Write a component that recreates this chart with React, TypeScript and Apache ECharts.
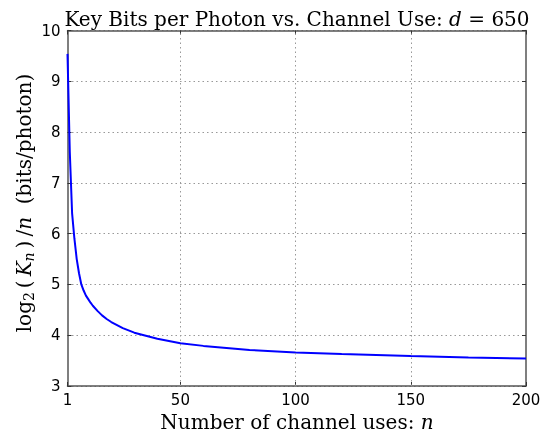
import React, { useEffect, useRef } from "react";
import * as echarts from "echarts";

const nValues = [1, 2, 3, 4, 5, 6, 7, 8, 9, 10, 11, 12, 14, 16, 18, 20, 25, 30, 35, 40, 50, 60, 70, 80, 100, 120, 150, 175, 200];
const keyBits = [9.54, 7.6, 6.4, 5.9, 5.5, 5.22, 5.0, 4.88, 4.78, 4.71, 4.64, 4.58, 4.48, 4.39, 4.32, 4.26, 4.14, 4.05, 3.99, 3.93, 3.84, 3.79, 3.75, 3.71, 3.66, 3.63, 3.59, 3.56, 3.54];
const xTicks = [1, 50, 100, 150, 200];
const yMin = 3;
const yMax = 10;

const titleText = "Key Bits per Photon vs. Channel Use";
const xLabelText = "Number of channel uses";

export default function App() {
  const ref = useRef<HTMLDivElement>(null);
  useEffect(() => {
    if (!ref.current) return;
    const chart = echarts.init(ref.current, null, { renderer: "svg" });
    const serif = "DejaVu Serif";
    const sans = "DejaVu Sans";
    const frame = { show: true, lineStyle: { color: "#555", width: 1.5 } };
    const grid = { left: 67.5, right: 23, top: 30.5, bottom: 49 };
    const gridLine = { show: true, lineStyle: { color: "#999", type: [1.5, 3], width: 1 } };
    const rich = {
      r: { fontFamily: serif, fontSize: 20, fill: "#000" },
      i: { fontFamily: serif, fontSize: 20, fontStyle: "italic", fill: "#000" },
      s: { fontFamily: serif, fontSize: 14, fill: "#000", padding: [10, 0, 0, 0] },
      si: { fontFamily: serif, fontSize: 14, fontStyle: "italic", fill: "#000", padding: [10, 0, 0, 0] },
      g: { fontFamily: serif, fontSize: 20, width: 4 },
    };
    chart.setOption({
      animation: false,
      grid: { ...grid, outerBoundsMode: "none" },
      xAxis: [
        {
          type: "value",
          min: 1,
          max: 200,
          position: "bottom",
          axisLine: frame,
          axisTick: { show: true, inside: true, length: 4, customValues: xTicks, lineStyle: { color: "#333" } },
          axisLabel: { customValues: xTicks, color: "#000", fontFamily: sans, fontSize: 15, margin: 6 },
          splitLine: { show: false },
        },
        {
          type: "value",
          min: 1,
          max: 200,
          position: "top",
          axisLine: frame,
          axisTick: { show: true, inside: true, length: 4, customValues: xTicks, lineStyle: { color: "#333" } },
          axisLabel: { show: false },
          splitLine: { show: false },
        },
      ],
      yAxis: [
        {
          type: "value",
          min: yMin,
          max: yMax,
          interval: 1,
          position: "left",
          axisLine: frame,
          axisTick: { show: true, inside: true, length: 4, lineStyle: { color: "#333" } },
          axisLabel: { color: "#000", fontFamily: sans, fontSize: 15, margin: 7 },
          splitLine: gridLine,
        },
        {
          type: "value",
          min: yMin,
          max: yMax,
          interval: 1,
          position: "right",
          axisLine: frame,
          axisTick: { show: true, inside: true, length: 4, lineStyle: { color: "#333" } },
          axisLabel: { show: false },
          splitLine: { show: false },
        },
      ],
      series: [
        {
          type: "line",
          data: nValues.map((n, i) => [n, keyBits[i]]),
          showSymbol: false,
          smooth: false,
          lineStyle: { color: "#0000ff", width: 2 },
          z: 3,
          markLine: {
            silent: true,
            symbol: "none",
            label: { show: false },
            lineStyle: { color: "#999", type: [1.5, 3], width: 1 },
            data: xTicks.slice(1, 4).map((v) => ({ xAxis: v })),
          },
        },
      ],
      graphic: [
        {
          type: "text",
          x: 297,
          y: 29,
          style: {
            rich,
            text: `{r|${titleText}: }{i|d}{r| = 650}`,
            textAlign: "center",
            textVerticalAlign: "bottom",
          },
        },
        {
          type: "text",
          x: 297,
          y: 422,
          style: {
            rich,
            text: `{r|${xLabelText}: }{i|n}`,
            textAlign: "center",
            textVerticalAlign: "middle",
          },
        },
        {
          type: "text",
          x: 24,
          y: 203,
          rotation: Math.PI / 2,
          style: {
            rich,
            text: "{r|log}{s|2}{g| }{r|(}{g| }{i|K}{si|n}{g| }{r|)}{g| }{r|/}{i|n}{r|  (bits/photon)}",
            textAlign: "center",
            textVerticalAlign: "middle",
          },
        },
      ],
    });
    return () => chart.dispose();
  }, []);
  return <div ref={ref} style={{ position: "fixed", left: 0, top: 0, width: 549, height: 435 }} />;
}
